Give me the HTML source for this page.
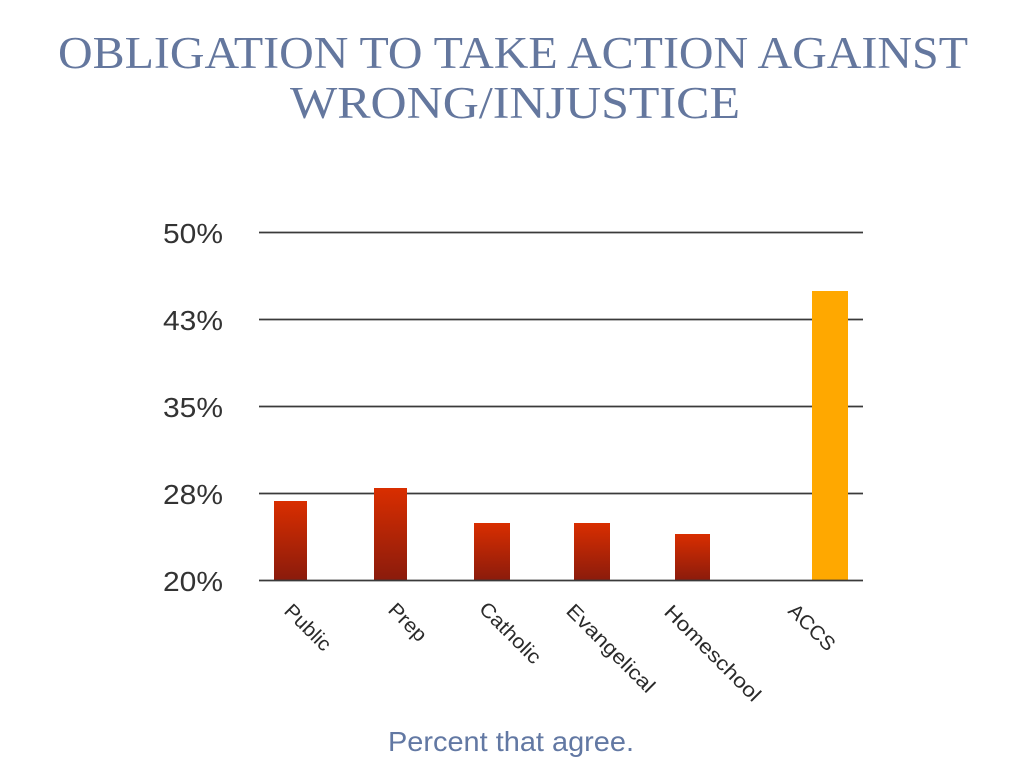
<!DOCTYPE html>
<html>
<head>
<meta charset="utf-8">
<style>
  html, body { margin: 0; padding: 0; background: #ffffff; }
  body { width: 1024px; height: 769px; overflow: hidden; }
  svg { display: block; }
</style>
</head>
<body>
<svg width="1024" height="769" viewBox="0 0 1024 769" xmlns="http://www.w3.org/2000/svg">
  <defs>
    <linearGradient id="red" x1="0" y1="0" x2="0" y2="1">
      <stop offset="0" stop-color="#d92e00"/>
      <stop offset="1" stop-color="#8a1b0c"/>
    </linearGradient>
  </defs>
  <rect width="1024" height="769" fill="#ffffff"/>

  <!-- Title -->
  <text x="58" y="68" font-family="Liberation Serif, serif" font-size="45" fill="#64779e" textLength="910" lengthAdjust="spacingAndGlyphs">OBLIGATION TO TAKE ACTION AGAINST</text>
  <text x="290" y="118" font-family="Liberation Serif, serif" font-size="45" fill="#64779e" textLength="450" lengthAdjust="spacingAndGlyphs">WRONG/INJUSTICE</text>

  <!-- Gridlines -->
  <g stroke="#3a3a3a" stroke-width="1.8">
    <line x1="259" y1="232.5" x2="863" y2="232.5"/>
    <line x1="259" y1="319.5" x2="863" y2="319.5"/>
    <line x1="259" y1="406.5" x2="863" y2="406.5"/>
    <line x1="259" y1="493.5" x2="863" y2="493.5"/>
  </g>

  <!-- Y labels -->
  <g font-family="Liberation Sans, sans-serif" font-size="28" fill="#333">
    <text x="163" y="243" textLength="60" lengthAdjust="spacingAndGlyphs">50%</text>
    <text x="163" y="330" textLength="60" lengthAdjust="spacingAndGlyphs">43%</text>
    <text x="163" y="417" textLength="60" lengthAdjust="spacingAndGlyphs">35%</text>
    <text x="163" y="504" textLength="60" lengthAdjust="spacingAndGlyphs">28%</text>
    <text x="163" y="591" textLength="60" lengthAdjust="spacingAndGlyphs">20%</text>
  </g>

  <!-- Bars -->
  <rect x="274" y="501" width="33" height="80" fill="url(#red)"/>
  <rect x="374" y="488" width="33" height="93" fill="url(#red)"/>
  <rect x="474" y="523" width="36" height="58" fill="url(#red)"/>
  <rect x="574" y="523" width="36" height="58" fill="url(#red)"/>
  <rect x="675" y="534" width="35" height="47" fill="url(#red)"/>
  <rect x="812" y="291" width="36" height="290" fill="#ffa800"/>

  <!-- Baseline -->
  <line x1="259" y1="580.5" x2="863" y2="580.5" stroke="#3a3a3a" stroke-width="1.8"/>

  <!-- X labels -->
  <g font-family="Liberation Sans, sans-serif" font-size="20" fill="#2a2a2a">
    <text transform="translate(283,612) rotate(45)" textLength="57" lengthAdjust="spacingAndGlyphs">Public</text>
    <text transform="translate(387,611) rotate(45)" textLength="45" lengthAdjust="spacingAndGlyphs">Prep</text>
    <text transform="translate(478,610) rotate(45)" textLength="78" lengthAdjust="spacingAndGlyphs">Catholic</text>
    <text transform="translate(565,612) rotate(45)" textLength="116" lengthAdjust="spacingAndGlyphs">Evangelical</text>
    <text transform="translate(663,613) rotate(45)" textLength="127" lengthAdjust="spacingAndGlyphs">Homeschool</text>
    <text transform="translate(787,612) rotate(45)" textLength="57" lengthAdjust="spacingAndGlyphs">ACCS</text>
  </g>

  <!-- Footer -->
  <text x="388" y="751" font-family="Liberation Sans, sans-serif" font-size="28" fill="#6278a3" textLength="246" lengthAdjust="spacingAndGlyphs">Percent that agree.</text>
</svg>
</body>
</html>
